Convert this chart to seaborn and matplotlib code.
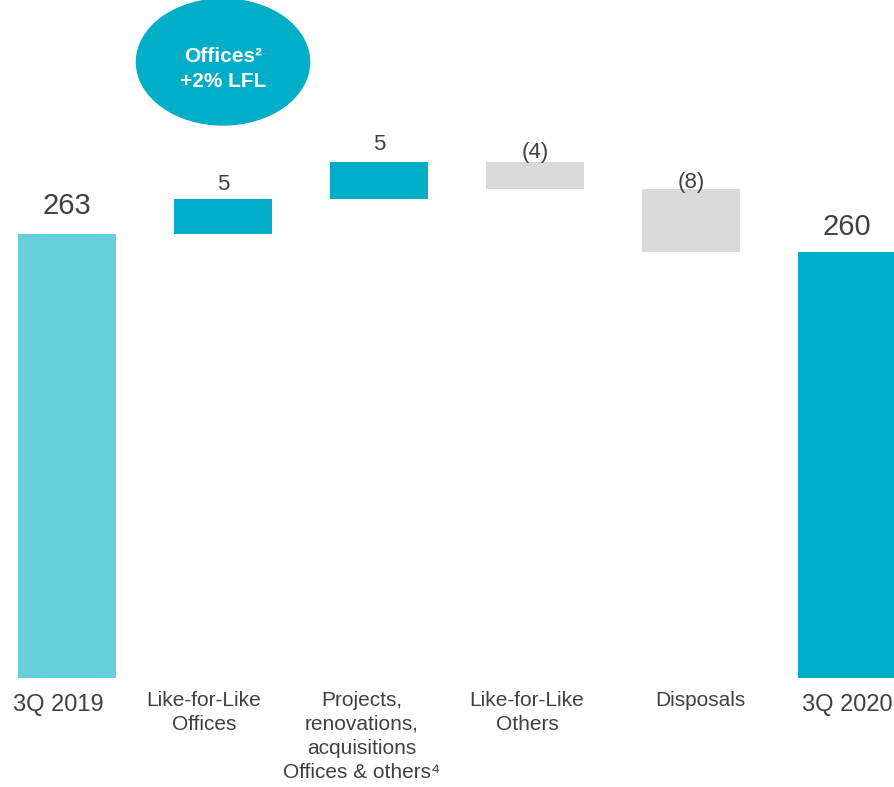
import pandas as pd
import matplotlib
matplotlib.use("Agg")
import matplotlib.pyplot as plt
import matplotlib.transforms as mtransforms
from matplotlib.patches import Ellipse
import seaborn as sns

steps = ['3Q 2019', 'Like-for-Like\nOffices',
         'Projects,\nrenovations,\nacquisitions\nOffices & others\u2074',
         'Like-for-Like\nOthers', 'Disposals', '3Q 2020']
start_value = 263.0
deltas = [5.0, 5.3, -3.9, -8.9]
end_value = 260.5
value_labels = ['263', '5', '5', '(4)', '(8)', '260']
bar_colors = ['#66CFDC', '#00AFC7', '#00AFC7', '#D9D9D9', '#D9D9D9', '#00AFC7']
axis_floor = 199.6   # the chart starts from a broken baseline


def build_waterfall():
    bottoms = [axis_floor]
    heights = [start_value - axis_floor]
    running = start_value
    for d in deltas:
        bottoms.append(min(running, running + d))
        heights.append(abs(d))
        running += d
    bottoms.append(axis_floor)
    heights.append(end_value - axis_floor)
    return pd.DataFrame({'step': steps, 'bottom': bottoms, 'height': heights})


def chart(df):
    sns.set_style('white')
    plt.rcParams['font.family'] = ['Liberation Sans', 'DejaVu Sans']
    fig = plt.figure(figsize=(8.94, 7.87), dpi=100)
    ax = fig.add_axes([0, 0.1385, 1, 0.8615])

    sns.barplot(data=df, x='step', y='height', order=steps, bottom=df['bottom'].values,
                width=0.628, errorbar=None, ax=ax, linewidth=0, color='#00AFC7',
                saturation=1)
    for p, c in zip(ax.patches, bar_colors):
        p.set_facecolor(c)

    ax.set_xlim(-0.4295, 5.301)
    ax.set_ylim(axis_floor, axis_floor + 678 / 7)
    sns.despine(ax=ax, left=True, bottom=True)
    ax.set_yticks([])
    ax.set_xlabel('')
    ax.set_ylabel('')
    ax.tick_params(axis='x', length=0, pad=9.5, colors='#404040')
    ax.set_xticks(range(len(steps)))
    ax.set_xticklabels(steps, linespacing=1.32)

    # labels in the slide are not exactly centred under their bars (pixel shifts)
    shift_x = [-9, -19, -17, -8, 9, 0]
    shift_y = [-3, 0, 0, 0, 0, -3]
    for i, t in enumerate(ax.get_xticklabels()):
        t.set_fontsize(17 if i in (0, len(steps) - 1) else 15)
        t.set_va('top')
        t.set_transform(t.get_transform() +
                        mtransforms.ScaledTranslation(shift_x[i] / 100, shift_y[i] / 100,
                                                      fig.dpi_scale_trans))

    # value labels on top of each bar
    offsets = [20, 10.5, 13, 7, 5, 18]
    sizes = [21, 16, 16, 16, 16, 21]
    for i, row in df.iterrows():
        top = row['bottom'] + row['height']
        ax.annotate(value_labels[i], (i, top), xytext=(0, offsets[i]),
                    textcoords='offset points', ha='center', va='center',
                    fontsize=sizes[i], color='#404040')

    # callout bubble
    yc = axis_floor + (678 - 62) / 7
    ax.add_patch(Ellipse((1, yc), width=1.11, height=18, color='#00AFC7',
                         clip_on=False, zorder=3))
    ax.annotate('Offices\u00b2\n+2% LFL', (1, yc), xytext=(0, -5), textcoords='offset points',
                ha='center', va='center', fontsize=15, fontweight='bold', color='white',
                linespacing=1.4, zorder=4)

    fig.savefig('out.png', dpi=100)


if __name__ == '__main__':
    chart(build_waterfall())
